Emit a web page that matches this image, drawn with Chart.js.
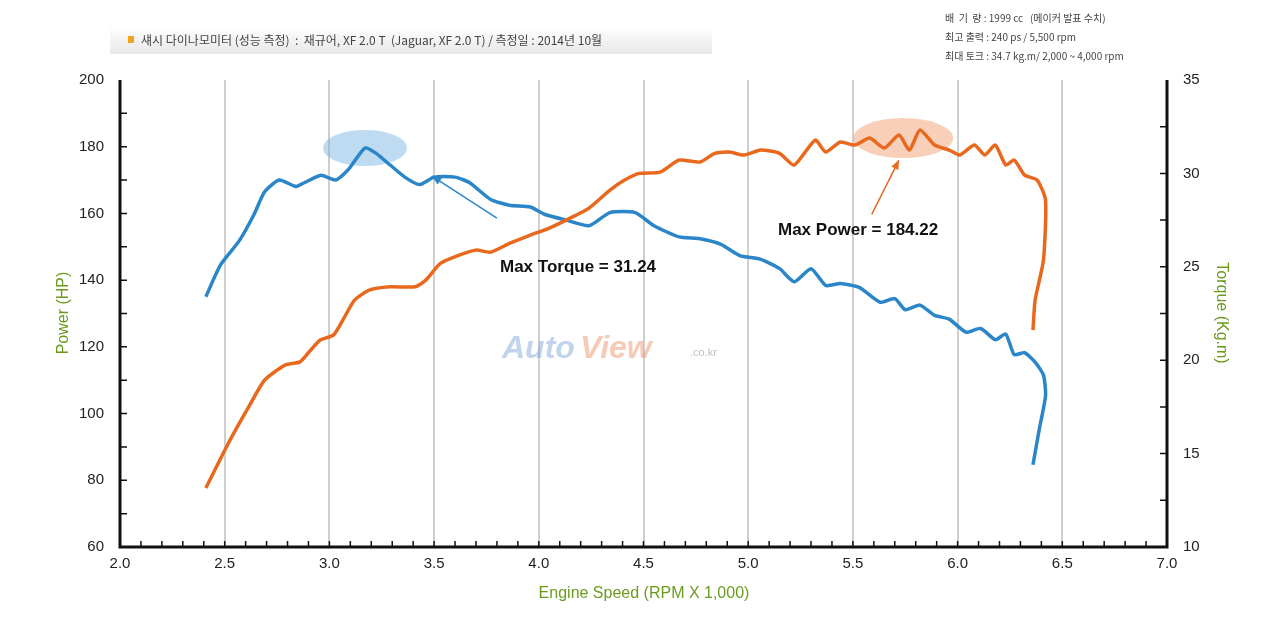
<!DOCTYPE html>
<html>
<head>
<meta charset="utf-8">
<script src="https://cdn.jsdelivr.net/npm/chart.js@4"></script>
<style>
  body { margin: 0; background: #fff; }
  #wrap { position: relative; width: 1280px; height: 621px; }
</style>
</head>
<body>
<div id="wrap"><canvas id="dyno" width="1280" height="621"></canvas></div>
<script>
// power curve (HP), orange
const powerRpm = [2.41,2.525,2.62,2.69,2.79,2.86,2.91,2.955,3.02,3.07,3.12,3.19,3.29,3.41,3.46,3.53,3.62,3.7,3.77,3.86,3.96,4.05,4.15,4.24,4.34,4.41,4.48,4.58,4.67,4.77,4.84,4.91,4.98,5.06,5.15,5.22,5.32,5.37,5.44,5.51,5.58,5.65,5.72,5.77,5.82,5.89,5.96,6.01,6.08,6.13,6.18,6.23,6.27,6.32,6.38,6.42,6.41,6.37,6.36];
const powerHp = [77.7,92,102.6,110,114.6,115.5,119,122,123.6,128.7,134,137,138,138,140,145,147.5,149,148.4,151,153.5,155.6,158.6,161.6,167,170,172,172.4,176,175.4,178,178.4,177.5,179,178,174.5,182,178.4,181.4,180.5,182.6,179.6,183.5,179,185,180.5,179,177.5,180.5,177.5,180.5,174.5,176,171.5,170,164,146,134,125];

// torque curve (kg.m), blue
const torqueRpm = [2.41,2.48,2.57,2.64,2.69,2.76,2.84,2.88,2.96,3.03,3.09,3.17,3.22,3.29,3.36,3.43,3.5,3.6,3.67,3.77,3.86,3.96,4.03,4.13,4.24,4.34,4.46,4.55,4.67,4.77,4.87,4.96,5.06,5.15,5.22,5.3,5.37,5.44,5.53,5.63,5.7,5.75,5.82,5.89,5.96,6.04,6.11,6.18,6.23,6.27,6.32,6.37,6.41,6.42,6.39,6.36];
const torqueKgm = [23.4,25.1,26.4,27.8,29,29.65,29.3,29.5,29.9,29.65,30.2,31.36,31.1,30.45,29.8,29.4,29.8,29.8,29.5,28.6,28.3,28.2,27.8,27.5,27.2,27.9,27.9,27.2,26.6,26.5,26.2,25.6,25.4,24.9,24.2,24.9,24.0,24.1,23.9,23.1,23.3,22.7,22.95,22.4,22.2,21.5,21.7,21.1,21.4,20.3,20.4,19.9,19.2,18.1,16.3,14.4];

const ORANGE = '#e8691e';
const BLUE = '#2a86c8';
const GREEN = '#6b9b1e';

const toXY = (xs, ys) => xs.map((x, i) => ({ x: x, y: ys[i] }));

const decor = {
  id: 'decor',
  beforeDatasetsDraw(chart) {
    const { ctx, scales } = chart;
    const x = scales.x, yl = scales.y, yr = scales.y1;
    // highlight ellipses
    ctx.save();
    ctx.fillStyle = 'rgba(110,175,225,0.45)';
    ctx.beginPath();
    ctx.ellipse(x.getPixelForValue(3.17), yr.getPixelForValue(31.36), 42, 18, 0, 0, Math.PI * 2);
    ctx.fill();
    ctx.fillStyle = 'rgba(240,150,100,0.45)';
    ctx.beginPath();
    ctx.ellipse(x.getPixelForValue(5.74), yl.getPixelForValue(182.6), 50, 20, 0, 0, Math.PI * 2);
    ctx.fill();
    // watermark
    ctx.font = 'italic bold 32px "Liberation Sans", Arial, sans-serif';
    ctx.fillStyle = 'rgba(120,160,210,0.45)';
    ctx.fillText('Auto', 502, 358);
    ctx.fillStyle = 'rgba(235,150,110,0.5)';
    ctx.fillText('View', 580, 358);
    ctx.font = '11px "Liberation Sans", Arial, sans-serif';
    ctx.fillStyle = 'rgba(150,150,150,0.6)';
    ctx.fillText('.co.kr', 690, 356);
    ctx.restore();
  },
  afterDraw(chart) {
    const { ctx, scales, chartArea: a } = chart;
    const x = scales.x, yl = scales.y, yr = scales.y1;
    ctx.save();
    // axis lines
    ctx.strokeStyle = '#111';
    ctx.lineWidth = 3;
    ctx.beginPath();
    ctx.moveTo(a.left, a.top); ctx.lineTo(a.left, a.bottom); ctx.lineTo(a.right, a.bottom); ctx.lineTo(a.right, a.top);
    ctx.stroke();
    // minor ticks
    ctx.lineWidth = 1.5;
    ctx.beginPath();
    for (let v = 2.1; v < 7; v += 0.1) {
      const px = x.getPixelForValue(v);
      ctx.moveTo(px, a.bottom); ctx.lineTo(px, a.bottom - 6);
    }
    for (let v = 70; v < 200; v += 10) {
      const py = yl.getPixelForValue(v);
      ctx.moveTo(a.left, py); ctx.lineTo(a.left + 7, py);
    }
    for (let v = 12.5; v < 35; v += 2.5) {
      const py = yr.getPixelForValue(v);
      ctx.moveTo(a.right, py); ctx.lineTo(a.right - 7, py);
    }
    ctx.stroke();
    // arrows
    const arrow = (x0, y0, x1, y1, col) => {
      ctx.strokeStyle = col; ctx.fillStyle = col; ctx.lineWidth = 1.5;
      ctx.beginPath(); ctx.moveTo(x0, y0); ctx.lineTo(x1, y1); ctx.stroke();
      const ang = Math.atan2(y1 - y0, x1 - x0);
      ctx.beginPath();
      ctx.moveTo(x1, y1);
      ctx.lineTo(x1 - 10 * Math.cos(ang - 0.4), y1 - 10 * Math.sin(ang - 0.4));
      ctx.lineTo(x1 - 10 * Math.cos(ang + 0.4), y1 - 10 * Math.sin(ang + 0.4));
      ctx.closePath(); ctx.fill();
    };
    arrow(x.getPixelForValue(3.8), yr.getPixelForValue(27.6), x.getPixelForValue(3.49), yr.getPixelForValue(29.85), BLUE);
    arrow(x.getPixelForValue(5.59), yl.getPixelForValue(159.7), x.getPixelForValue(5.72), yl.getPixelForValue(176), ORANGE);
    // annotation labels
    ctx.fillStyle = '#111';
    ctx.font = 'bold 17px "Liberation Sans", Arial, sans-serif';
    ctx.textBaseline = 'middle';
    ctx.fillText('Max Torque = 31.24', 500, 267);
    ctx.fillText('Max Power = 184.22', 778, 230);
    // axis titles
    ctx.font = '16px "Liberation Sans", Arial, sans-serif';
    ctx.fillStyle = GREEN;
    ctx.textAlign = 'center';
    ctx.fillText('Engine Speed (RPM X 1,000)', 644, 594);
    ctx.save(); ctx.translate(64, 313); ctx.rotate(-Math.PI / 2);
    ctx.fillText('Power (HP)', 0, 0); ctx.restore();
    ctx.save(); ctx.translate(1221, 313); ctx.rotate(Math.PI / 2);
    ctx.fillText('Torque (Kg.m)', 0, 0); ctx.restore();
    // header
    const g = ctx.createLinearGradient(0, 26, 0, 56);
    g.addColorStop(0, '#ffffff'); g.addColorStop(1, '#e6e6e6');
    ctx.fillStyle = g; ctx.fillRect(110, 26, 602, 28);
    ctx.fillStyle = '#f5a31a'; ctx.fillRect(128, 36, 6, 7);
    ctx.textAlign = 'left';
    ctx.fillStyle = '#444';
    ctx.font = '12px "Noto Sans CJK KR", sans-serif';
    ctx.fillText('섀시 다이나모미터 (성능 측정)  :  재규어, XF 2.0 T  (Jaguar, XF 2.0 T) / 측정일 : 2014년 10월', 141, 40);
    ctx.font = '10px "Noto Sans CJK KR", sans-serif';
    ctx.fillText('배  기  량 : 1999 cc   (메이커 발표 수치)', 945, 18);
    ctx.fillText('최고 출력 : 240 ps / 5,500 rpm', 945, 37);
    ctx.fillText('최대 토크 : 34.7 kg.m/ 2,000 ~ 4,000 rpm', 945, 56);
    ctx.restore();
  }
};

const tickFont = { size: 15, family: '"Liberation Sans", Arial' };

new Chart(document.getElementById('dyno'), {
  type: 'line',
  data: {
    datasets: [
      { label: 'Power', data: toXY(powerRpm, powerHp), yAxisID: 'y', borderColor: ORANGE, borderWidth: 3.5, pointRadius: 0, tension: 0.2, fill: false },
      { label: 'Torque', data: toXY(torqueRpm, torqueKgm), yAxisID: 'y1', borderColor: BLUE, borderWidth: 3.5, pointRadius: 0, tension: 0.2, fill: false }
    ]
  },
  options: {
    responsive: false,
    animation: false,
    layout: { padding: { top: 80, left: 0, right: 0, bottom: 0 } },
    plugins: { legend: { display: false }, tooltip: { enabled: false } },
    scales: {
      x: {
        type: 'linear', min: 2, max: 7,
        afterFit: s => { s.height = 74; },
        ticks: { stepSize: 0.5, color: '#222', font: tickFont, padding: 8, callback: v => v.toFixed(1) },
        grid: { color: '#cfcfcf', lineWidth: 2, drawTicks: false },
        border: { display: false }
      },
      y: {
        position: 'left', min: 60, max: 200,
        afterFit: s => { s.width = 120; },
        ticks: { stepSize: 20, color: '#222', font: tickFont, padding: 8 },
        grid: { display: false },
        border: { display: false }
      },
      y1: {
        position: 'right', min: 10, max: 35,
        afterFit: s => { s.width = 113; },
        ticks: { stepSize: 5, color: '#222', font: tickFont, padding: 8 },
        grid: { display: false },
        border: { display: false }
      }
    }
  },
  plugins: [decor]
});
</script>
</body>
</html>
